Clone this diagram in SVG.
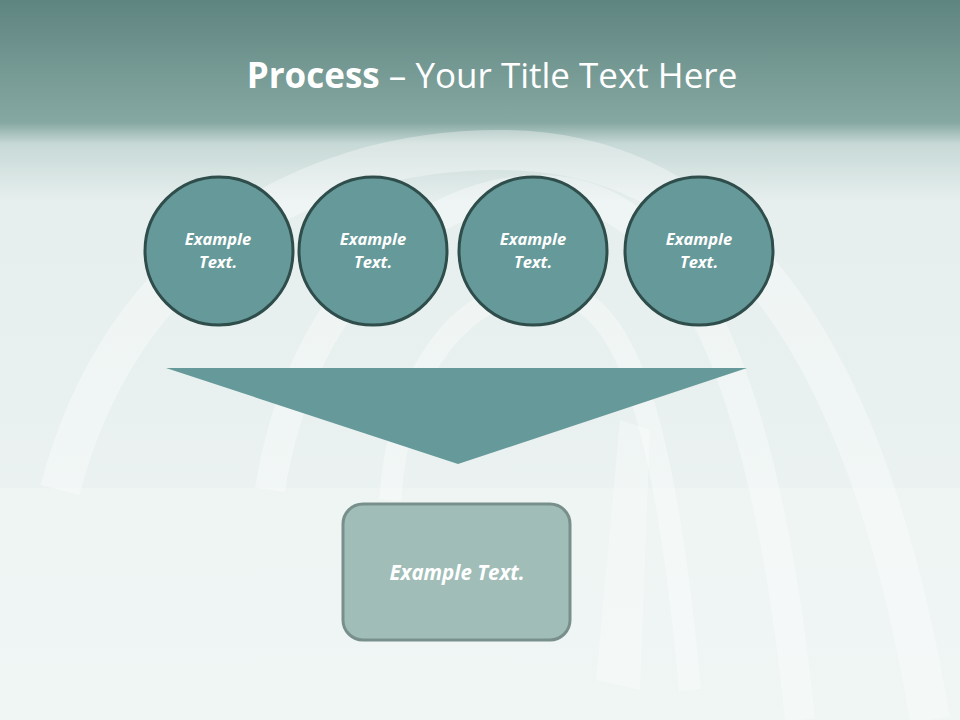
<svg xmlns="http://www.w3.org/2000/svg" width="960" height="720" viewBox="0 0 960 720">
<defs>
<linearGradient id="bg" x1="0" y1="0" x2="0" y2="1">
<stop offset="0" stop-color="#5f8580"/>
<stop offset="0.17" stop-color="#86a8a2"/>
<stop offset="0.2" stop-color="#c7d9d6"/>
<stop offset="0.28" stop-color="#e6efee"/>
<stop offset="1" stop-color="#eef4f3"/>
</linearGradient>
<style>
.c{fill:#669999;stroke:#2e4d4b;stroke-width:3}
.t{font-family:"Open Sans","Liberation Sans",sans-serif;font-weight:bold;font-style:italic;fill:#ffffff;text-anchor:middle}
.arch{fill:none;stroke:#ffffff;stroke-opacity:0.35}
</style>
</defs>
<rect x="0" y="0" width="960" height="720" fill="url(#bg)"/>
<g id="background">
<rect x="0" y="488" width="960" height="232" fill="#f0f6f5" opacity="0.6"/>
<path class="arch" stroke-width="40" d="M60 490 C120 260 300 150 500 150 C700 150 860 300 930 720"/>
<path class="arch" stroke-width="30" d="M270 490 C300 300 420 190 540 190 C660 190 760 320 800 720"/>
<path class="arch" stroke-width="22" d="M390 500 C400 360 470 290 540 290 C610 290 660 360 690 690"/>
<path d="M596 680 L620 420 L650 430 L640 690 Z" fill="#ffffff" opacity="0.3"/>
</g>
<g id="title">
<text x="492" y="88" font-family="'Open Sans','Liberation Sans',sans-serif" font-size="35" fill="#ffffff" text-anchor="middle"><tspan font-weight="bold">Process</tspan> – Your Title Text Here</text>
</g>
<g id="connectors">
<polygon points="166,368 747,368 458,464" fill="#669999"/>
</g>
<g id="node1"><circle class="c" cx="219" cy="251" r="74"/><text class="t" font-size="16.5" x="218" y="245">Example</text><text class="t" font-size="16.5" x="218" y="268">Text.</text></g>
<g id="node2"><circle class="c" cx="373" cy="251" r="74"/><text class="t" font-size="16.5" x="373" y="245">Example</text><text class="t" font-size="16.5" x="373" y="268">Text.</text></g>
<g id="node3"><circle class="c" cx="533" cy="251" r="74"/><text class="t" font-size="16.5" x="533" y="245">Example</text><text class="t" font-size="16.5" x="533" y="268">Text.</text></g>
<g id="node4"><circle class="c" cx="699" cy="251" r="74"/><text class="t" font-size="16.5" x="699" y="245">Example</text><text class="t" font-size="16.5" x="699" y="268">Text.</text></g>
<g id="result"><rect x="343" y="504" width="227" height="136" rx="20" fill="#a0bdb8" stroke="#788f8b" stroke-width="3"/><text class="t" font-size="20.5" x="457" y="580">Example Text.</text></g>
</svg>
